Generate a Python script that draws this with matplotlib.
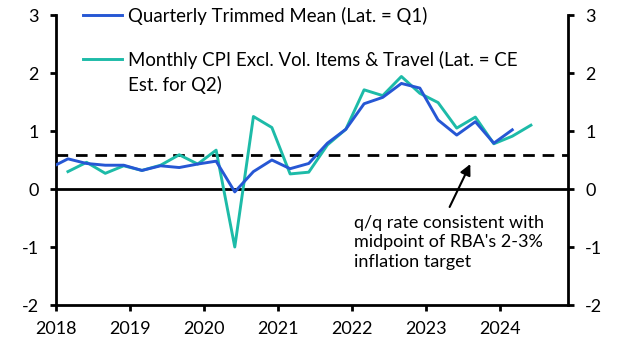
import matplotlib
matplotlib.use("Agg")
import matplotlib.pyplot as plt
import matplotlib.dates as mdates
import pandas as pd

plt.rcParams['font.family'] = ['Lato', 'DejaVu Sans']
plt.rcParams['axes.unicode_minus'] = False

# Quarterly trimmed mean, q/q %, Dec 2017 .. Mar 2024
trimmed_dates = pd.date_range('2017-12-01', periods=26, freq='3MS')
trimmed = [0.36, 0.52, 0.44, 0.41, 0.41, 0.32, 0.40, 0.37, 0.43, 0.48,
           -0.05, 0.30, 0.50, 0.35, 0.44, 0.79, 1.03, 1.47, 1.58, 1.82,
           1.74, 1.19, 0.93, 1.16, 0.79, 1.02]

# Monthly CPI excl. volatile items & travel, q/q %, Mar 2018 .. Jun 2024
monthly_dates = pd.date_range('2018-03-01', periods=26, freq='3MS')
monthly = [0.30, 0.46, 0.27, 0.40, 0.32, 0.41, 0.59, 0.43, 0.67, -1.00,
           1.25, 1.06, 0.26, 0.29, 0.76, 1.03, 1.71, 1.61, 1.94, 1.65,
           1.49, 1.05, 1.24, 0.78, 0.91, 1.10]

target_rate = 0.59
year_ticks = list(range(2018, 2025))
y_ticks = [-2, -1, 0, 1, 2, 3]

label_trimmed = "Quarterly Trimmed Mean (Lat. = Q1)"
label_monthly = "Monthly CPI Excl. Vol. Items & Travel (Lat. = CE\nEst. for Q2)"
note = "q/q rate consistent with\nmidpoint of RBA's 2-3%\ninflation target"

FS = 13

fig = plt.figure(figsize=(6.27, 3.52), dpi=100)
ax = fig.add_axes([56/627, 1-305/352, (568-56)/627, (305-15)/352])

blue = '#2657D4'
teal = '#1DBBA8'

ax.plot(trimmed_dates, trimmed, color=blue, lw=2.1, zorder=4)
ax.plot(monthly_dates, monthly, color=teal, lw=2.1, zorder=3)
ax.axhline(0, color='black', lw=2.0, zorder=2)
ax.axhline(target_rate, color='black', lw=2.0, ls=(0, (4.2, 2.8)), zorder=2)

ax.set_xlim(pd.Timestamp('2018-01-01'), pd.Timestamp('2024-12-01'))
ax.set_ylim(-2, 3)
ax.set_xticks([pd.Timestamp(f'{y}-01-01') for y in year_ticks])
ax.xaxis.set_major_formatter(mdates.DateFormatter('%Y'))
ax.set_yticks(y_ticks)

for s in ['left', 'right', 'bottom']:
    ax.spines[s].set_linewidth(2.0)
ax.spines['top'].set_visible(False)

ax.tick_params(axis='both', direction='out', length=4.5, width=2.0, labelsize=FS, colors='black')
ax.tick_params(axis='x', pad=7)
ax.tick_params(axis='y', left=True, right=True, labelleft=True, labelright=True, pad=8)

# Legend drawn manually (handle aligned with first text line, as in the reference)
tr = ax.transAxes
for ypos, col, lab in [(1.0, blue, label_trimmed), (0.848, teal, label_monthly)]:
    ax.plot([0.0527, 0.129], [ypos, ypos], color=col, lw=2.1, transform=tr, clip_on=False)
    ax.text(0.1406, ypos + 0.029, lab, transform=tr, fontsize=13.4, ha='left', va='top',
            linespacing=1.45)

ax.text(0.582, 0.31, note, transform=tr, fontsize=FS, ha='left', va='top', linespacing=1.25)
ax.annotate('', xy=(pd.Timestamp('2023-08-07'), 0.43),
            xytext=(pd.Timestamp('2023-04-27'), -0.31),
            arrowprops=dict(arrowstyle='-|>', color='black', lw=1.5, mutation_scale=16,
                            shrinkA=0, shrinkB=0))

fig.savefig('out.png', dpi=100)
